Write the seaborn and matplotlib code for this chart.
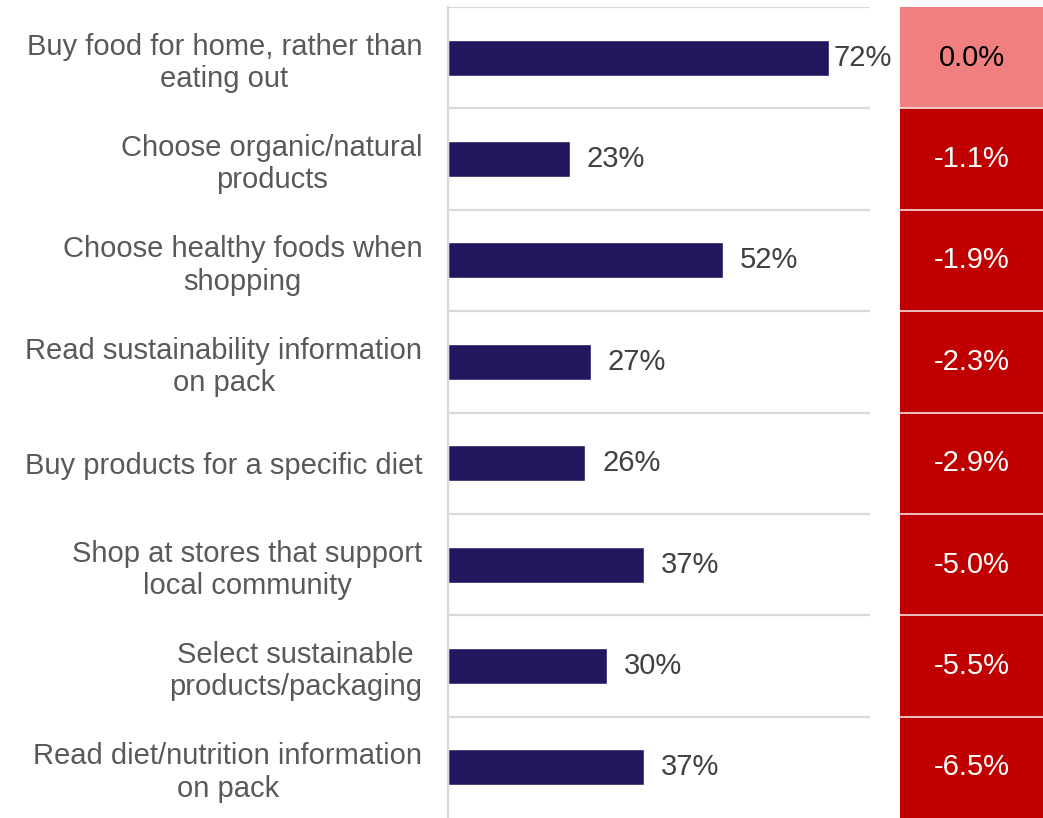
import numpy as np
import matplotlib
matplotlib.use("Agg")
import matplotlib.pyplot as plt
from matplotlib.colors import ListedColormap
import seaborn as sns
import pandas as pd

# Shopping behaviours, share of shoppers, and change vs previous period
behaviours = [
    "Buy food for home, rather than\neating out",
    "Choose organic/natural\nproducts",
    "Choose healthy foods when\nshopping",
    "Read sustainability information\non pack",
    "Buy products for a specific diet",
    "Shop at stores that support\nlocal community",
    "Select sustainable\nproducts/packaging",
    "Read diet/nutrition information\non pack",
]
share_pct = [72, 23, 52, 27, 26, 37, 30, 37]
change_pct = [0.0, -1.1, -1.9, -2.3, -2.9, -5.0, -5.5, -6.5]

BAR_COLOR = "#21175E"
GRID_COLOR = "#D9D9D9"
LABEL_COLOR = "#595959"
VALUE_COLOR = "#404040"
FLAT_COLOR = "#F08080"
DROP_COLOR = "#C00000"
FS = 21

sns.set_theme(style="white")
plt.rcParams["font.family"] = ["Liberation Sans", "DejaVu Sans"]

W, H = 1043, 818
fig = plt.figure(figsize=(W / 100, H / 100), dpi=100)

top = 1 - 7 / H
ax = fig.add_axes([448 / W, 0.0, (870 - 448) / W, top])
ax_chg = fig.add_axes([900 / W, 0.0, (W - 900) / W, top])

df = pd.DataFrame({"behaviour": behaviours, "share": share_pct})
sns.barplot(data=df, x="share", y="behaviour", orient="h", color=BAR_COLOR,
            saturation=1, width=0.355, ax=ax)
ax.set_xlim(0, 79.8)
ax.set_ylim(len(behaviours) - 0.5, -0.5)
ax.set_xlabel("")
ax.set_ylabel("")
ax.set_xticks([])
ax.tick_params(axis="y", length=0, pad=18.5, labelsize=FS, labelcolor=LABEL_COLOR)
for lbl in ax.get_yticklabels():
    lbl.set_multialignment("center")
    lbl.set_linespacing(1.2)

# row separators
ax.set_yticks(np.arange(-0.5, len(behaviours) - 1, 1), minor=True)
ax.tick_params(axis="y", which="minor", length=0)
ax.grid(which="minor", axis="y", color=GRID_COLOR, lw=1.6)
ax.grid(which="major", visible=False)
for side in ("top", "right", "bottom"):
    ax.spines[side].set_visible(False)
ax.spines["left"].set_color(GRID_COLOR)
ax.spines["left"].set_linewidth(1.6)

# value labels to the right of each bar, pulled in when close to the edge
fig.canvas.draw()
renderer = fig.canvas.get_renderer()
px_per_unit = ax.transData.transform((1, 0))[0] - ax.transData.transform((0, 0))[0]
edge_px = ax_chg.get_window_extent().x0
for bar, val in zip(ax.patches, share_pct):
    x_end = bar.get_x() + bar.get_width()
    y_mid = bar.get_y() + bar.get_height() / 2
    t = ax.text(x_end, y_mid, f"{val}%", va="center", ha="left",
                fontsize=FS, color=VALUE_COLOR)
    w_px = t.get_window_extent(renderer).width
    end_px = ax.transData.transform((x_end, 0))[0]
    gap = min(17, edge_px - 8 - end_px - w_px)
    t.set_x(x_end + gap / px_per_unit)

# change column
chg = np.array(change_pct).reshape(-1, 1)
annot = np.array([f"{v:.1f}%" for v in change_pct]).reshape(-1, 1)
sns.heatmap(chg, ax=ax_chg, cmap=ListedColormap([DROP_COLOR, FLAT_COLOR]),
            vmin=-0.2, vmax=0.1, cbar=False, annot=annot, fmt="",
            annot_kws={"fontsize": FS}, linewidths=0,
            xticklabels=False, yticklabels=False)
for txt, v in zip(ax_chg.texts, change_pct):
    txt.set_color("black" if v == 0 else "white")
ax_chg.set_yticks(np.arange(1, len(behaviours)), minor=True)
ax_chg.tick_params(which="both", length=0)
ax_chg.grid(which="minor", axis="y", color="#F6E0E0", lw=1.2)
ax_chg.grid(which="major", visible=False)
ax_chg.set_axisbelow(False)
ax_chg.set_xlabel("")
ax_chg.set_ylabel("")

fig.savefig("out.png", dpi=100)
